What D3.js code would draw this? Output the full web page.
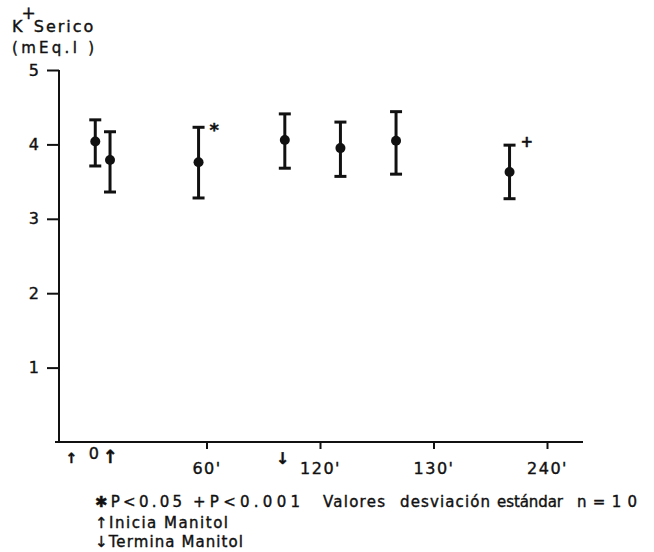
<!DOCTYPE html>
<html lang="es">
<head>
  <meta charset="UTF-8">
  <title>K+ Serico</title>
  <script src="https://d3js.org/d3.v7.min.js"></script>
  <style>
    body { margin: 0; background: #fff; }
    svg text { font-family: "DejaVu Sans", sans-serif; fill: #111; stroke: #111; stroke-width: 0.4; }
    .axis path, .axis line { stroke: #111; stroke-width: 2; }
    .axis text { font-size: 16px; letter-spacing: 1.5px; }
    .bar { stroke: #111; stroke-width: 3; }
    .dot { fill: #111; }
    .note { font-size: 15px; }
  </style>
</head>
<body>
  <svg width="654" height="552"></svg>
  <script>
    // tick labels along the time axis (equally spaced slots)
    const tickLabels = ["0", "60'", "120'", "130'", "240'"];
    // position of each measurement along the slots
    const position = [0.02, 0.15, 0.93, 1.69, 2.18, 2.67, 3.67];
    const mean  = [4.04, 3.79, 3.76, 4.06, 3.95, 4.05, 3.63];
    const upper = [4.33, 4.17, 4.23, 4.41, 4.30, 4.44, 3.99];
    const lower = [3.71, 3.36, 3.28, 3.68, 3.57, 3.60, 3.27];
    const marks = ["", "", "*", "", "", "", "+"];
    const yTicks = [1, 2, 3, 4, 5];

    const svg = d3.select('svg');

    const x = d3.scaleLinear().domain([0, 4]).range([93, 547]);
    const y = d3.scaleLinear().domain([0, 5]).range([442, 70]);

    // y axis
    const yAxis = svg.append('g')
      .attr('class', 'axis')
      .attr('transform', 'translate(59,0)')
      .call(d3.axisLeft(y).tickValues(yTicks).tickFormat(d3.format('d'))
        .tickSize(12).tickPadding(8).tickSizeOuter(0));
    yAxis.select('.domain').attr('d', `M0,${y(5)}V${y(0) + 1}`);
    yAxis.selectAll('text').style('letter-spacing', '0');

    // x axis
    const xAxis = svg.append('g')
      .attr('class', 'axis')
      .attr('transform', `translate(0,${y(0)})`)
      .call(d3.axisBottom(x).tickValues(d3.range(tickLabels.length))
        .tickFormat(i => tickLabels[i]).tickSize(7).tickPadding(14).tickSizeOuter(0));
    xAxis.select('.domain').attr('d', 'M55,0H583');
    xAxis.selectAll('.tick').filter(d => d === 0).select('line').remove();
    xAxis.selectAll('.tick').filter(d => d === 0).select('text').attr('dx', 1).attr('y', 6);

    // arrows under the axis (start / end of manitol)
    const arrows = [
      { v: -0.19, s: '\u2191', dy: 21, size: 14 },
      { v: 0.15, s: '\u2191', dy: 21, size: 18 },
      { v: 1.67, s: '\u2193', dy: 22, size: 16 }
    ];
    svg.selectAll('.arrow').data(arrows).enter().append('text')
      .attr('class', 'arrow')
      .attr('x', d => x(d.v))
      .attr('y', d => y(0) + d.dy)
      .attr('text-anchor', 'middle')
      .style('font-size', d => d.size + 'px')
      .style('font-weight', 'bold')
      .text(d => d.s);

    const data = position.map((p, i) => ({ p, m: mean[i], hi: upper[i], lo: lower[i], mark: marks[i] }));

    const g = svg.append('g');
    const pts = g.selectAll('.pt').data(data).enter().append('g').attr('class', 'pt');
    pts.append('line').attr('class', 'bar')
      .attr('x1', d => x(d.p)).attr('x2', d => x(d.p))
      .attr('y1', d => y(d.hi)).attr('y2', d => y(d.lo));
    pts.append('line').attr('class', 'bar')
      .attr('x1', d => x(d.p) - 6).attr('x2', d => x(d.p) + 6)
      .attr('y1', d => y(d.hi)).attr('y2', d => y(d.hi));
    pts.append('line').attr('class', 'bar')
      .attr('x1', d => x(d.p) - 6).attr('x2', d => x(d.p) + 6)
      .attr('y1', d => y(d.lo)).attr('y2', d => y(d.lo));
    pts.append('circle').attr('class', 'dot')
      .attr('cx', d => x(d.p)).attr('cy', d => y(d.m)).attr('r', 5);
    pts.append('text')
      .attr('x', d => x(d.p) + 11)
      .attr('y', d => y(d.hi) + (d.mark === '*' ? 9 : 2))
      .style('font-size', d => d.mark === '*' ? '18px' : '15px')
      .style('font-weight', 'bold')
      .text(d => d.mark);

    // y title
    const title = svg.append('text').attr('x', 12).attr('y', 32)
      .style('font-size', '16px').style('letter-spacing', '2px');
    title.append('tspan').text('K');
    title.append('tspan').attr('dy', -13).attr('dx', -3).style('font-size', '17px').text('+');
    title.append('tspan').attr('dy', 13).attr('dx', -4).text('Serico');
    svg.append('text').attr('x', 12).attr('y', 53)
      .style('font-size', '15px')
      .attr('textLength', 82)
      .text('(mEq.l )');

    // notes under the chart
    const noteLine = [
      { x: 95, w: 87, t: '\u2731P<0.05' },
      { x: 193, w: 107, t: '+P<0.001' },
      { x: 323, w: 62, t: 'Valores' },
      { x: 400, w: 90, t: 'desviación' },
      { x: 497, w: 66, t: 'estándar' },
      { x: 577, w: 60, t: 'n=10' }
    ];
    svg.selectAll('.n1').data(noteLine).enter().append('text')
      .attr('class', 'note').attr('x', d => d.x).attr('y', 507)
      .attr('textLength', d => d.w).text(d => d.t);
    svg.append('text').attr('class', 'note').attr('x', 95).attr('y', 528)
      .attr('textLength', 133).text('\u2191Inicia Manitol');
    svg.append('text').attr('class', 'note').attr('x', 95).attr('y', 547)
      .attr('textLength', 148).text('\u2193Termina Manitol');
  </script>
</body>
</html>
